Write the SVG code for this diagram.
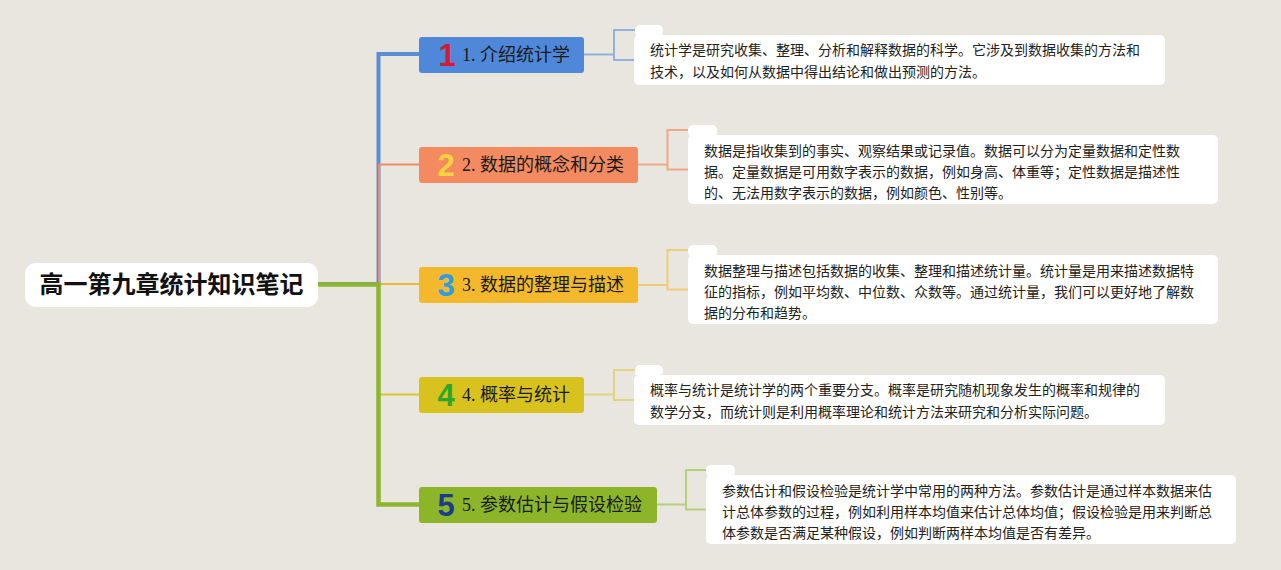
<svg xmlns="http://www.w3.org/2000/svg" width="1281" height="570" viewBox="0 0 1281 570">
<style>
.bg{fill:#E8E6DF}
.box{fill:#FFFFFF}
.note{font-family:"Noto Sans CJK SC","Liberation Sans",sans-serif;font-size:14px;fill:#222222}
.topic{font-family:"Liberation Serif","Noto Sans CJK SC",serif;font-size:18px;fill:#1A1A1A}
.topic .cjk{font-family:"Noto Sans CJK SC",sans-serif}
.num{font-family:"Liberation Sans","DejaVu Sans",sans-serif;font-size:31px;font-weight:bold;text-anchor:middle}
.root{font-family:"Noto Sans CJK SC","Liberation Sans",sans-serif;font-size:24px;font-weight:bold;fill:#111111;text-anchor:middle}
.ln{fill:none;stroke-linejoin:miter}
</style>
<rect class="bg" x="0" y="0" width="1281" height="570"/>

<g id="connectors">
  <path class="ln" d="M318 284 H378.5 V54 H419" stroke="#5A8DD8" stroke-width="4"/>
  <path class="ln" d="M318 284 H379 V164.5 H419" stroke="#EE8A66" stroke-width="2"/>
  <path class="ln" d="M318 284 H419" stroke="#F0B83A" stroke-width="2"/>
  <path class="ln" d="M318 284 H379 V394.5 H419" stroke="#D9C42B" stroke-width="2"/>
  <path class="ln" d="M318 284.5 H378.5 V504.5 H419" stroke="#8DB52F" stroke-width="4.5"/>
  <path class="ln" d="M584 54.5 H614 M635 30 H614 V60 H635" stroke="#92B0DC" stroke-width="2"/>
  <path class="ln" d="M638 164.5 H667.5 M688 130 H667.5 V169.5 H688" stroke="#EFA789" stroke-width="2"/>
  <path class="ln" d="M638 285 H667.5 M688 250 H667.5 V289.5 H688" stroke="#EFCC78" stroke-width="2"/>
  <path class="ln" d="M584 394.5 H614 M635 370 H614 V400 H635" stroke="#E0D47E" stroke-width="2"/>
  <path class="ln" d="M657 504.5 H686 M706 470 H686 V509.5 H706" stroke="#B7CE7C" stroke-width="2"/>
</g>

<g id="root">
  <rect class="box" x="25" y="263" width="293" height="44" rx="11"/>
  <text class="root" x="171.5" y="293">高一第九章统计知识笔记</text>
</g>

<g id="topic1">
  <rect x="419" y="37" width="165" height="36" rx="3" fill="#4F88D8"/>
  <text class="num" x="447" y="66" fill="#D41A30">1</text>
  <text class="topic" x="462" y="61">1. <tspan class="cjk">介绍统计学</tspan></text>
</g>
<g id="topic2">
  <rect x="419" y="147" width="219" height="36" rx="3" fill="#F38A60"/>
  <text class="num" x="446" y="176" fill="#F8D33F">2</text>
  <text class="topic" x="462" y="171">2. <tspan class="cjk">数据的概念和分类</tspan></text>
</g>
<g id="topic3">
  <rect x="419" y="267" width="219" height="36" rx="3" fill="#F4B82C"/>
  <text class="num" x="446" y="296" fill="#2C9FE0">3</text>
  <text class="topic" x="462" y="291">3. <tspan class="cjk">数据的整理与描述</tspan></text>
</g>
<g id="topic4">
  <rect x="419" y="377" width="165" height="36" rx="3" fill="#D8C21D"/>
  <text class="num" x="446" y="406" fill="#2FA52C">4</text>
  <text class="topic" x="462" y="401">4. <tspan class="cjk">概率与统计</tspan></text>
</g>
<g id="topic5">
  <rect x="419" y="487" width="238" height="36" rx="3" fill="#8CB52A"/>
  <text class="num" x="446" y="516" fill="#1E3A8C">5</text>
  <text class="topic" x="462" y="511">5. <tspan class="cjk">参数估计与假设检验</tspan></text>
</g>

<g id="note1">
  <rect class="box" x="635" y="25" width="28" height="12" rx="5"/>
  <rect class="box" x="634" y="35" width="531" height="50" rx="5"/>
  <text class="note" x="650" y="55">统计学是研究收集、整理、分析和解释数据的科学。它涉及到数据收集的方法和</text>
  <text class="note" x="650" y="77">技术，以及如何从数据中得出结论和做出预测的方法。</text>
</g>
<g id="note2">
  <rect class="box" x="688" y="125" width="29" height="12" rx="5"/>
  <rect class="box" x="688" y="135" width="530" height="69" rx="5"/>
  <text class="note" x="704" y="156">数据是指收集到的事实、观察结果或记录值。数据可以分为定量数据和定性数</text>
  <text class="note" x="704" y="177">据。定量数据是可用数字表示的数据，例如身高、体重等；定性数据是描述性</text>
  <text class="note" x="704" y="198">的、无法用数字表示的数据，例如颜色、性别等。</text>
</g>
<g id="note3">
  <rect class="box" x="688" y="245" width="29" height="12" rx="5"/>
  <rect class="box" x="688" y="255" width="530" height="69" rx="5"/>
  <text class="note" x="704" y="276">数据整理与描述包括数据的收集、整理和描述统计量。统计量是用来描述数据特</text>
  <text class="note" x="704" y="297">征的指标，例如平均数、中位数、众数等。通过统计量，我们可以更好地了解数</text>
  <text class="note" x="704" y="318">据的分布和趋势。</text>
</g>
<g id="note4">
  <rect class="box" x="635" y="365" width="28" height="12" rx="5"/>
  <rect class="box" x="634" y="375" width="531" height="50" rx="5"/>
  <text class="note" x="650" y="395">概率与统计是统计学的两个重要分支。概率是研究随机现象发生的概率和规律的</text>
  <text class="note" x="650" y="417">数学分支，而统计则是利用概率理论和统计方法来研究和分析实际问题。</text>
</g>
<g id="note5">
  <rect class="box" x="706" y="465" width="29" height="12" rx="5"/>
  <rect class="box" x="706" y="475" width="530" height="69" rx="5"/>
  <text class="note" x="722" y="496">参数估计和假设检验是统计学中常用的两种方法。参数估计是通过样本数据来估</text>
  <text class="note" x="722" y="517">计总体参数的过程，例如利用样本均值来估计总体均值；假设检验是用来判断总</text>
  <text class="note" x="722" y="538">体参数是否满足某种假设，例如判断两样本均值是否有差异。</text>
</g>
</svg>
